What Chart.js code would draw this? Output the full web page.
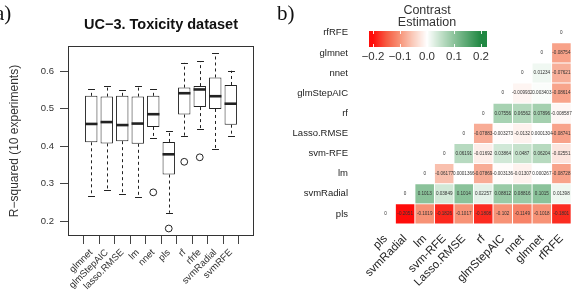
<!DOCTYPE html>
<html>
<head>
<meta charset="utf-8">
<script src="https://cdn.jsdelivr.net/npm/chart.js@4"></script>
<style>
  body { margin: 0; background: #fff; width: 583px; height: 302px; overflow: hidden; position: relative; font-family: "Liberation Sans", Arial, sans-serif; }
  canvas { position: absolute; top: 0; }
  #box { left: 0; }
  #heat { left: 290px; }
  .tag { position: absolute; font-family: "Liberation Serif", serif; font-size: 21px; color: #111; }
  #title { position: absolute; left: 68px; width: 186px; top: 16px; text-align: center; font-weight: bold; font-size: 14.5px; color: #111; white-space: nowrap; }
</style>
</head>
<body>
<canvas id="box" width="290" height="302"></canvas>
<canvas id="heat" width="293" height="302"></canvas>
<div class="tag" style="left:-5px; top:1px;">a)</div>
<div class="tag" style="left:277px; top:1px;">b)</div>
<div id="title">UC−3. Toxicity dataset</div>
<script>
// boxplot (panel a)
const methods = ["glmnet", "glmStepAIC", "lasso.RMSE", "lm", "nnet", "pls", "rf", "rfrfe", "svmRadial", "svmRFE"];
const lowerWhisker = [0.267, 0.282, 0.273, 0.265, 0.421, 0.222, 0.426, 0.445, 0.393, 0.427];
const q1 = [0.410, 0.407, 0.413, 0.406, 0.451, 0.324, 0.484, 0.504, 0.499, 0.457];
const median = [0.459, 0.464, 0.456, 0.460, 0.485, 0.378, 0.541, 0.551, 0.533, 0.513];
const q3 = [0.534, 0.532, 0.534, 0.532, 0.534, 0.411, 0.556, 0.560, 0.583, 0.563];
const upperWhisker = [0.551, 0.561, 0.549, 0.560, 0.552, 0.441, 0.622, 0.626, 0.648, 0.601];
const outliers = [null, null, null, null, 0.2765, 0.180, 0.358, 0.370, null, null];
const rTicks = [0.2, 0.3, 0.4, 0.5, 0.6];

// contrast heatmap (panel b), row i starts at column i
const models = ["pls", "svmRadial", "lm", "svm-RFE", "Lasso.RMSE", "rf", "glmStepAIC", "nnet", "glmnet", "rfRFE"];
const contrast = [
  [0, -0.2051, -0.1019, -0.1826, -0.1017, -0.1808, -0.102, -0.1149, -0.1018, -0.1801],
  [0, 0.1013, 0.03849, 0.1014, 0.02257, 0.08812, 0.08816, 0.1015, 0.01398],
  [0, -0.06177, 0.0001366, -0.07869, -0.003136, -0.01307, 0.000267, -0.08728],
  [0, 0.06191, -0.01692, 0.03864, 0.0487, 0.06204, -0.02551],
  [0, -0.07883, -0.003273, -0.0132, 0.0001304, -0.08741],
  [0, 0.07556, 0.06562, 0.07896, -0.008587],
  [0, -0.009932, 0.003403, -0.08614],
  [0, 0.01234, -0.07621],
  [0, -0.08754],
  [0]
];
const legendTicks = [-0.2, -0.1, 0.0, 0.1, 0.2];

const colorStops = [
  [-0.2, [255, 12, 10]], [-0.15, [246, 92, 66]], [-0.1, [247, 148, 120]], [-0.05, [250, 205, 190]],
  [0, [255, 255, 255]], [0.05, [196, 225, 203]], [0.1, [140, 195, 155]], [0.2, [32, 136, 66]]
];
function contrastColor(v) {
  if (v <= colorStops[0][0]) return "rgb(" + colorStops[0][1].join(",") + ")";
  for (let k = 1; k < colorStops.length; k++) {
    const [v1, c1] = colorStops[k];
    const [v0, c0] = colorStops[k - 1];
    if (v <= v1) {
      const t = (v - v0) / (v1 - v0);
      return "rgb(" + c0.map((c, n) => Math.round(c + (c1[n] - c) * t)).join(",") + ")";
    }
  }
  return "rgb(" + colorStops[colorStops.length - 1][1].join(",") + ")";
}

const boxExtras = {
  id: "boxExtras",
  afterDatasetsDraw(chart) {
    const ctx = chart.ctx;
    const y = chart.scales.y;
    ctx.save();
    ctx.strokeStyle = "#222";
    chart.getDatasetMeta(0).data.forEach((bar, i) => {
      const x = Math.round(bar.x) + 0.5, w = bar.width;
      ctx.lineWidth = 1;
      ctx.setLineDash([3, 3]);
      ctx.beginPath();
      ctx.moveTo(x, y.getPixelForValue(q3[i]));
      ctx.lineTo(x, y.getPixelForValue(upperWhisker[i]));
      ctx.moveTo(x, y.getPixelForValue(q1[i]));
      ctx.lineTo(x, y.getPixelForValue(lowerWhisker[i]));
      ctx.stroke();
      ctx.setLineDash([]);
      ctx.beginPath();
      [upperWhisker[i], lowerWhisker[i]].forEach(v => {
        const py = Math.round(y.getPixelForValue(v)) + 0.5;
        ctx.moveTo(x - w * 0.28, py);
        ctx.lineTo(x + w * 0.28, py);
      });
      ctx.stroke();
      ctx.lineWidth = 2.6;
      ctx.beginPath();
      const my = y.getPixelForValue(median[i]);
      ctx.moveTo(bar.x - w / 2, my);
      ctx.lineTo(bar.x + w / 2, my);
      ctx.stroke();
    });
    ctx.restore();
  },
  afterDraw(chart) {
    const {ctx, chartArea: a} = chart;
    ctx.save();
    ctx.strokeStyle = "#333";
    ctx.lineWidth = 1;
    ctx.strokeRect(a.left + 0.5, a.top + 0.5, a.right - a.left - 1, a.bottom - a.top - 1);
    ctx.restore();
  }
};

new Chart(document.getElementById("box"), {
  type: "bar",
  data: {
    datasets: [
      {
        data: methods.map((m, i) => ({x: i + 1, y: [q1[i], q3[i]]})),
        backgroundColor: "#fff",
        borderColor: "#222",
        borderWidth: 1,
        borderSkipped: false,
        barPercentage: 0.8,
        categoryPercentage: 1
      },
      {
        type: "scatter",
        data: outliers.map((v, i) => v == null ? null : {x: i + 1, y: v}).filter(p => p),
        pointRadius: 3.4,
        pointBorderWidth: 1,
        pointBorderColor: "#222",
        pointBackgroundColor: "rgba(0,0,0,0)"
      }
    ]
  },
  options: {
    responsive: false,
    animation: false,
    layout: {padding: {left: 4, top: 46, right: 36, bottom: 0}},
    plugins: {legend: {display: false}, tooltip: {enabled: false}},
    scales: {
      x: {
        type: "linear",
        min: 0.1,
        max: 10.9,
        afterBuildTicks: s => { s.ticks = methods.map((m, i) => ({value: i + 1})); },
        afterFit: s => { s.height = 66; },
        ticks: {
          callback: v => methods[v - 1],
          autoSkip: false,
          minRotation: 45,
          maxRotation: 45,
          padding: 3,
          color: "#333",
          font: {family: "Liberation Sans", size: 9.5}
        },
        grid: {drawOnChartArea: false, tickLength: 8, color: "#444"},
        border: {display: false}
      },
      y: {
        min: 0.16,
        max: 0.667,
        afterBuildTicks: s => { s.ticks = rTicks.map(v => ({value: v})); },
        afterFit: s => { s.width = 64; },
        ticks: {
          callback: v => v.toFixed(1),
          padding: 6,
          color: "#333",
          font: {family: "Liberation Sans", size: 9.5}
        },
        grid: {drawOnChartArea: false, tickLength: 8, color: "#444"},
        border: {display: false},
        title: {
          display: true,
          text: "R−squared (10 experiments)",
          color: "#333",
          padding: {top: 3, bottom: 0},
          font: {family: "Liberation Sans", size: 12}
        }
      }
    }
  },
  plugins: [boxExtras]
});

function fmt(v) {
  return v === 0 ? "0" : String(parseFloat(v.toPrecision(4)));
}

const heatExtras = {
  id: "heatExtras",
  afterDatasetsDraw(chart) {
    const ctx = chart.ctx;
    ctx.save();
    ctx.fillStyle = "#333";
    ctx.textAlign = "center";
    ctx.textBaseline = "middle";
    ctx.font = "4.6px 'Liberation Sans'";
    chart.data.datasets.forEach((ds, d) => {
      chart.getDatasetMeta(d).data.forEach((cell, k) => {
        const p = cell.getCenterPoint();
        ctx.fillText(fmt(ds.data[k].v), p.x, p.y);
      });
    });
    ctx.restore();
  },
  afterDraw(chart) {
    const ctx = chart.ctx;
    const cx = 137, per = 270, top = 31, h = 16;
    ctx.save();
    for (let px = 79; px < 197; px++) {
      ctx.fillStyle = contrastColor((px + 0.5 - cx) / per);
      ctx.fillRect(px, top, 1, h);
    }
    ctx.strokeStyle = "rgba(255,255,255,0.9)";
    ctx.lineWidth = 1;
    ctx.beginPath();
    legendTicks.forEach(t => {
      const px = Math.round(cx + t * per) + 0.5;
      ctx.moveTo(px, top); ctx.lineTo(px, top + 3);
      ctx.moveTo(px, top + h); ctx.lineTo(px, top + h - 3);
    });
    ctx.stroke();
    ctx.fillStyle = "#333";
    ctx.textAlign = "center";
    ctx.textBaseline = "middle";
    ctx.font = "12.5px 'Liberation Sans'";
    ctx.fillText("Contrast", cx, 11);
    ctx.fillText("Estimation", cx, 23);
    ctx.font = "11.5px 'Liberation Sans'";
    legendTicks.forEach(t => {
      ctx.fillText((t < 0 ? "−" : "") + Math.abs(t).toFixed(1), cx + t * per, 57);
    });
    ctx.restore();
  }
};

new Chart(document.getElementById("heat"), {
  type: "bar",
  data: {
    datasets: contrast.map((row, i) => ({
      data: row.map((v, k) => ({x: i + k, y: [i - 0.5, i + 0.5], v: v})),
      backgroundColor: c => contrastColor(c.raw.v),
      borderColor: "#fff",
      borderWidth: 0.8,
      borderSkipped: false,
      barPercentage: 1,
      categoryPercentage: 1,
      grouped: false
    }))
  },
  options: {
    responsive: false,
    animation: false,
    layout: {padding: {left: 0, top: 4, right: 1, bottom: 0}},
    plugins: {legend: {display: false}, tooltip: {enabled: false}},
    scales: {
      x: {
        type: "linear",
        min: -0.5,
        max: 9.5,
        afterBuildTicks: s => { s.ticks = models.map((m, i) => ({value: i})); },
        afterFit: s => { s.height = 78; },
        ticks: {
          callback: v => models[v],
          autoSkip: false,
          minRotation: 45,
          maxRotation: 45,
          padding: 8,
          color: "#222",
          font: {family: "Liberation Sans", size: 11.5}
        },
        grid: {display: false, drawTicks: false},
        border: {display: false}
      },
      y: {
        min: -0.5,
        max: 9.5,
        afterBuildTicks: s => { s.ticks = models.map((m, i) => ({value: i})); },
        afterFit: s => { s.width = 75; },
        ticks: {
          callback: v => models[v],
          padding: 17,
          color: "#222",
          font: {family: "Liberation Sans", size: 9.5}
        },
        grid: {display: false, drawTicks: false},
        border: {display: false}
      }
    }
  },
  plugins: [heatExtras]
});
</script>
</body>
</html>
